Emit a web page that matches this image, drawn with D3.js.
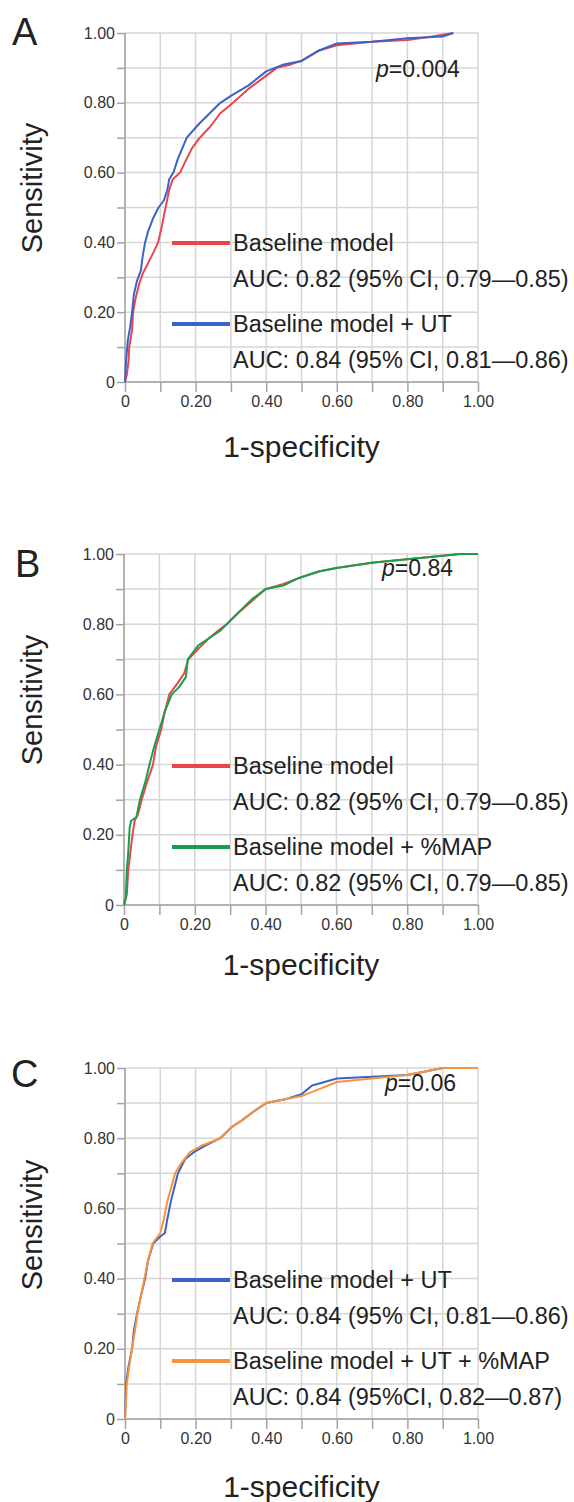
<!DOCTYPE html>
<html>
<head>
<meta charset="utf-8">
<script src="https://cdn.jsdelivr.net/npm/d3@7"></script>
<style>
  body { margin: 0; background: #fff; }
  svg { display: block; font-family: "Liberation Sans", Arial, sans-serif; }
</style>
</head>
<body>
<svg id="chart"></svg>
<script>
// tick values shared by all three panels
const gridTicks = [0, 0.1, 0.2, 0.3, 0.4, 0.5, 0.6, 0.7, 0.8, 0.9, 1.0];
const labelTicks = [0, 0.2, 0.4, 0.6, 0.8, 1.0];

// panel A: [1-specificity, sensitivity]
const baselineA = [[0,0],[0.005,0.02],[0.01,0.06],[0.012,0.1],[0.02,0.15],[0.023,0.2],[0.03,0.24],[0.04,0.28],[0.05,0.31],[0.065,0.34],[0.08,0.37],[0.094,0.4],[0.105,0.45],[0.115,0.5],[0.125,0.55],[0.135,0.58],[0.156,0.6],[0.17,0.63],[0.19,0.67],[0.212,0.7],[0.24,0.73],[0.27,0.77],[0.306,0.8],[0.35,0.84],[0.39,0.87],[0.43,0.9],[0.47,0.91],[0.5,0.92],[0.55,0.95],[0.6,0.965],[0.7,0.975],[0.8,0.98],[0.87,0.99],[0.93,1.0]];
const utA = [[0,0],[0.003,0.06],[0.008,0.12],[0.015,0.16],[0.02,0.2],[0.025,0.25],[0.034,0.29],[0.045,0.32],[0.05,0.36],[0.057,0.4],[0.065,0.43],[0.08,0.47],[0.095,0.5],[0.11,0.52],[0.12,0.55],[0.125,0.58],[0.137,0.6],[0.15,0.64],[0.175,0.7],[0.21,0.74],[0.25,0.78],[0.27,0.8],[0.3,0.82],[0.35,0.85],[0.4,0.89],[0.45,0.91],[0.5,0.92],[0.55,0.95],[0.6,0.97],[0.7,0.975],[0.8,0.985],[0.9,0.99],[0.93,1.0]];

// panel B
const baselineB = [[0,0],[0.008,0.03],[0.012,0.1],[0.018,0.15],[0.024,0.2],[0.03,0.24],[0.04,0.26],[0.05,0.3],[0.065,0.35],[0.082,0.4],[0.09,0.45],[0.105,0.5],[0.115,0.55],[0.128,0.6],[0.15,0.63],[0.17,0.66],[0.182,0.7],[0.21,0.73],[0.24,0.76],[0.27,0.785],[0.29,0.8],[0.32,0.83],[0.36,0.865],[0.4,0.9],[0.45,0.915],[0.49,0.93],[0.55,0.95],[0.6,0.96],[0.7,0.975],[0.8,0.985],[0.9,0.995],[0.95,1.0],[1,1]];
const mapB = [[0,0],[0.005,0.02],[0.008,0.1],[0.012,0.15],[0.016,0.22],[0.02,0.24],[0.035,0.25],[0.045,0.3],[0.06,0.35],[0.072,0.4],[0.085,0.45],[0.1,0.5],[0.115,0.55],[0.135,0.6],[0.155,0.62],[0.175,0.65],[0.18,0.7],[0.21,0.74],[0.24,0.76],[0.27,0.78],[0.29,0.8],[0.32,0.83],[0.36,0.87],[0.4,0.9],[0.45,0.91],[0.49,0.93],[0.55,0.95],[0.6,0.96],[0.7,0.975],[0.8,0.985],[0.9,0.995],[0.95,1.0],[1,1]];

// panel C
const utC = [[0,0],[0.002,0.05],[0.003,0.1],[0.01,0.15],[0.02,0.2],[0.025,0.25],[0.034,0.3],[0.045,0.35],[0.057,0.4],[0.065,0.45],[0.08,0.5],[0.1,0.52],[0.113,0.53],[0.12,0.57],[0.13,0.62],[0.15,0.7],[0.17,0.74],[0.195,0.76],[0.23,0.78],[0.27,0.8],[0.3,0.83],[0.33,0.85],[0.37,0.88],[0.4,0.9],[0.45,0.91],[0.5,0.925],[0.53,0.95],[0.6,0.97],[0.7,0.975],[0.8,0.98],[0.85,0.99],[0.9,1.0],[1,1]];
const utMapC = [[0,0],[0.003,0.05],[0.005,0.1],[0.012,0.15],[0.02,0.2],[0.028,0.25],[0.035,0.3],[0.045,0.35],[0.055,0.4],[0.065,0.45],[0.078,0.5],[0.1,0.53],[0.11,0.57],[0.12,0.62],[0.142,0.7],[0.16,0.73],[0.184,0.76],[0.22,0.78],[0.27,0.8],[0.3,0.83],[0.33,0.85],[0.37,0.88],[0.4,0.9],[0.45,0.91],[0.5,0.92],[0.55,0.94],[0.6,0.96],[0.7,0.97],[0.8,0.98],[0.85,0.99],[0.9,1.0],[1,1]];

const panelLetters = ['A', 'B', 'C'];
const pValues = ['0.004', '0.84', '0.06'];
const legendNames = [
  ['Baseline model', 'Baseline model + UT'],
  ['Baseline model', 'Baseline model + %MAP'],
  ['Baseline model + UT', 'Baseline model + UT + %MAP']
];
const legendAuc = [
  ['AUC: 0.82 (95% CI, 0.79\u20140.85)', 'AUC: 0.84 (95% CI, 0.81\u20140.86)'],
  ['AUC: 0.82 (95% CI, 0.79\u20140.85)', 'AUC: 0.82 (95% CI, 0.79\u20140.85)'],
  ['AUC: 0.84 (95% CI, 0.81\u20140.86)', 'AUC: 0.84 (95%CI, 0.82\u20140.87)']
];
const panelSeries = [[baselineA, utA], [baselineB, mapB], [utC, utMapC]];

const RED = '#e8464c', BLUE = '#3b62c9', GREEN = '#17a04b', ORANGE = '#f7933b';
const panelColors = [[RED, BLUE], [RED, GREEN], [BLUE, ORANGE]];

// layout of each panel on the page
const layout = [
  { top: 33,   bottom: 382,  left: 125, right: 478, letterX: 12, letterY: 45,   sensY: 188,  xlabY: 457,  pX: 376, pY: 77 },
  { top: 554,  bottom: 905,  left: 124, right: 478, letterX: 15, letterY: 577,  sensY: 700,  xlabY: 975,  pX: 382, pY: 576 },
  { top: 1068, bottom: 1419, left: 125, right: 478, letterX: 11, letterY: 1087, sensY: 1225, xlabY: 1497, pX: 385, pY: 1091 }
];

const width = 574, height = 1502;
const svg = d3.select('#chart')
  .attr('width', width)
  .attr('height', height)
  .attr('viewBox', `0 0 ${width} ${height}`);
svg.append('rect').attr('width', width).attr('height', height).attr('fill', '#fff');

const fmt = d => d === 0 ? '0' : d3.format('.2f')(d);

layout.forEach((L, i) => {
  const g = svg.append('g');
  const x = d3.scaleLinear().domain([0, 1]).range([L.left, L.right]);
  const y = d3.scaleLinear().domain([0, 1]).range([L.bottom, L.top]);

  // grid
  g.append('g').selectAll('line.v')
    .data(gridTicks)
    .enter().append('line')
      .attr('x1', d => x(d)).attr('x2', d => x(d))
      .attr('y1', y(0)).attr('y2', y(1))
      .style('stroke', '#d6d6d6').style('stroke-width', 1.5);
  g.append('g').selectAll('line.h')
    .data(gridTicks)
    .enter().append('line')
      .attr('x1', x(0)).attr('x2', x(1))
      .attr('y1', d => y(d)).attr('y2', d => y(d))
      .style('stroke', '#d6d6d6').style('stroke-width', 1.5);

  // axes
  const xAxis = d3.axisBottom(x).tickValues(gridTicks).tickSize(10)
    .tickFormat(d => labelTicks.some(t => Math.abs(t - d) < 1e-9) ? fmt(d) : '');
  const yAxis = d3.axisLeft(y).tickValues(gridTicks).tickSize(8)
    .tickFormat(d => labelTicks.some(t => Math.abs(t - d) < 1e-9) ? fmt(d) : '');
  const xg = g.append('g').attr('transform', `translate(0,${L.bottom})`).call(xAxis);
  const yg = g.append('g').attr('transform', `translate(${L.left},0)`).call(yAxis);
  [xg, yg].forEach(a => {
    a.select('.domain').remove();
    a.selectAll('line').style('stroke', '#a3a3a3').style('stroke-width', 1.5);
    a.selectAll('text').style('font-size', '16px').style('fill', '#333').style('font-family', '"Liberation Sans", Arial, sans-serif');
  });
  xg.selectAll('text').attr('y', 14);
  yg.selectAll('text').attr('x', -10);
  g.append('line')
    .attr('x1', x(0)).attr('x2', x(1)).attr('y1', y(0)).attr('y2', y(0))
    .style('stroke', '#a3a3a3').style('stroke-width', 1.5);
  g.append('line')
    .attr('x1', x(0)).attr('x2', x(0)).attr('y1', y(0)).attr('y2', y(1))
    .style('stroke', '#a3a3a3').style('stroke-width', 1.5);

  // curves
  const line = d3.line().x(d => x(d[0])).y(d => y(d[1]));
  g.append('g').selectAll('path')
    .data(panelSeries[i])
    .enter().append('path')
      .attr('d', line)
      .style('fill', 'none')
      .style('stroke', (_, j) => panelColors[i][j])
      .style('stroke-width', 2)
      .style('stroke-linejoin', 'round');

  // legend
  const rows = [L.bottom - 131, L.bottom - 95, L.bottom - 50, L.bottom - 14];
  [0, 1].forEach(j => {
    const base = rows[j * 2];
    g.append('line')
      .attr('x1', 172).attr('x2', 230)
      .attr('y1', base - 8).attr('y2', base - 8)
      .style('stroke', panelColors[i][j]).style('stroke-width', 4);
    g.append('text')
      .attr('x', 233).attr('y', base)
      .style('font-size', '23.5px').style('fill', '#222')
      .text(legendNames[i][j]);
    g.append('text')
      .attr('x', 233).attr('y', rows[j * 2 + 1])
      .style('font-size', '23.5px').style('fill', '#222')
      .text(legendAuc[i][j]);
  });

  // p value
  const p = g.append('text')
    .attr('x', L.pX).attr('y', L.pY)
    .style('font-size', '23px').style('fill', '#222');
  p.append('tspan').style('font-style', 'italic').text('p');
  p.append('tspan').text('=' + pValues[i]);

  // panel letter
  g.append('text')
    .attr('x', L.letterX).attr('y', L.letterY)
    .style('font-size', '38px').style('fill', '#222')
    .text(panelLetters[i]);

  // axis titles
  g.append('text')
    .attr('transform', `translate(42,${L.sensY}) rotate(-90)`)
    .attr('text-anchor', 'middle')
    .style('font-size', '29px').style('fill', '#222')
    .text('Sensitivity');
  g.append('text')
    .attr('x', (L.left + L.right) / 2).attr('y', L.xlabY)
    .attr('text-anchor', 'middle')
    .style('font-size', '30px').style('fill', '#222')
    .text('1-specificity');
});
</script>
</body>
</html>
